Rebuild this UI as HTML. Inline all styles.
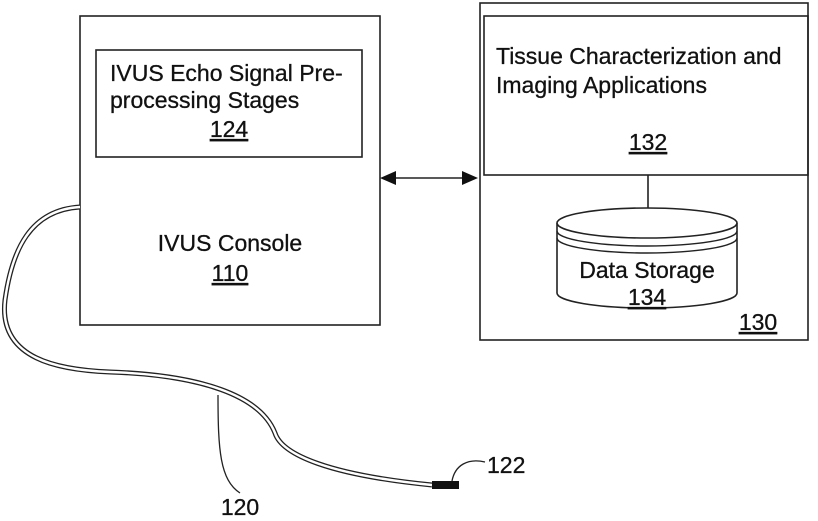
<!DOCTYPE html>
<html><head><style>
body{margin:0;background:#fff;}
svg text{font-family:"Liberation Sans",Arial,sans-serif;fill:#111;stroke:#111;stroke-width:0.3;}
</style></head><body>
<svg width="818" height="516" viewBox="0 0 818 516" xmlns="http://www.w3.org/2000/svg">
<g fill="none" stroke="#222" stroke-width="1.6">
<rect x="80" y="16" width="300" height="309"/>
<rect x="96" y="50" width="266" height="107"/>
<rect x="480" y="3" width="328" height="337"/>
<rect x="484" y="16" width="324" height="159"/>
<line x1="648" y1="175" x2="648" y2="208"/>
<line x1="392" y1="178" x2="468" y2="178"/>
</g>
<polygon points="380,178 396,171 396,185" fill="#111"/>
<polygon points="478,178 462,171 462,185" fill="#111"/>
<g fill="#fff" stroke="#222" stroke-width="1.6">
<path d="M557,223 L557,293 A90,15 0 0 0 737,293 L737,223"/>
<ellipse cx="647" cy="223" rx="90" ry="15"/>
</g>
<g fill="none" stroke="#222" stroke-width="1.4">
<path d="M557,231 A90,15 0 0 0 737,231"/>
<path d="M557,238 A90,15 0 0 0 737,238"/>
</g>
<path d="M80,207 C30,210 12,250 5,300 C-2,360 60,370 110,372 C200,375 260,395 275,433 C282,455 330,475 432,485" fill="none" stroke="#222" stroke-width="5"/>
<path d="M80,207 C30,210 12,250 5,300 C-2,360 60,370 110,372 C200,375 260,395 275,433 C282,455 330,475 432,485" fill="none" stroke="#fff" stroke-width="2.4"/>
<rect x="432" y="481" width="27" height="8" fill="#111"/>
<path d="M452,481 C455,465 468,458 485,462" fill="none" stroke="#222" stroke-width="1.3"/>
<path d="M218,395 C218,450 220,480 240,493" fill="none" stroke="#222" stroke-width="1.3"/>
<g font-size="23">
<text x="110" y="81">IVUS Echo Signal Pre-</text>
<text x="110" y="108">processing Stages</text>
<text x="229" y="137" text-anchor="middle" text-decoration="underline">124</text>
<text x="230" y="251" text-anchor="middle">IVUS Console</text>
<text x="230" y="281" text-anchor="middle" text-decoration="underline">110</text>
<text x="496" y="64">Tissue Characterization and</text>
<text x="496" y="93">Imaging Applications</text>
<text x="648" y="150" text-anchor="middle" text-decoration="underline">132</text>
<text x="647" y="278" text-anchor="middle">Data Storage</text>
<text x="647" y="305" text-anchor="middle" text-decoration="underline">134</text>
<text x="758" y="330" text-anchor="middle" text-decoration="underline">130</text>
<text x="487" y="473">122</text>
<text x="240" y="515" text-anchor="middle">120</text>
</g>
</svg>
</body></html>
